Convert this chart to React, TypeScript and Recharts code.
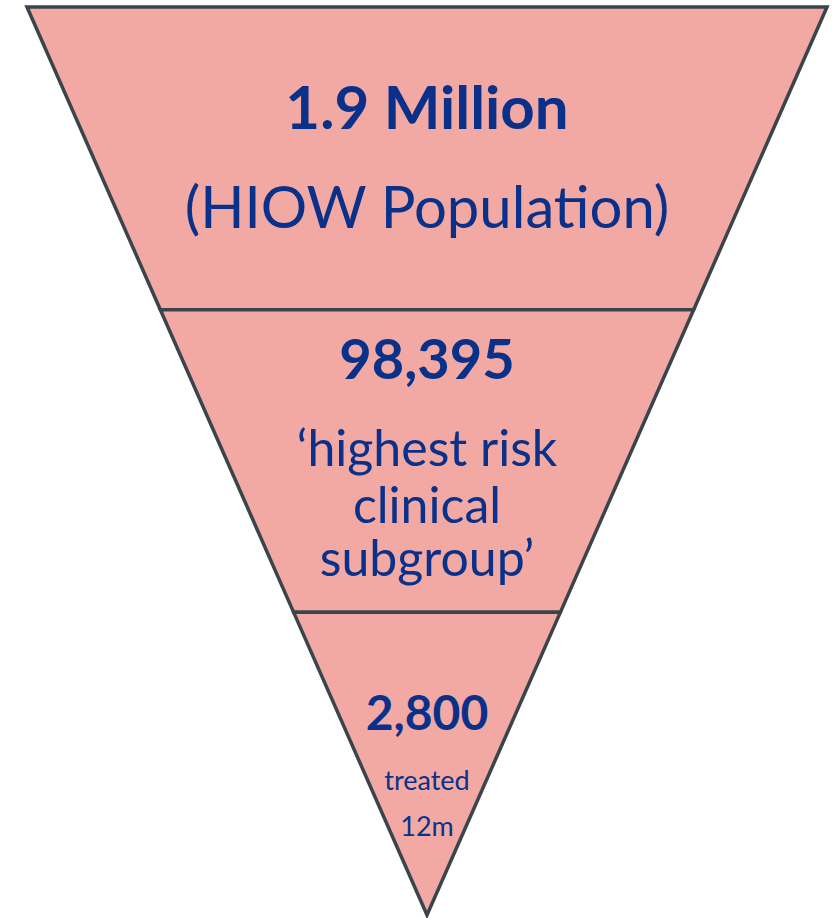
import React from 'react';
import { FunnelChart, Funnel, Trapezoid } from 'recharts';

// Three stages of the funnel, widest first
const stages = ['HIOW population', 'Highest risk subgroup', 'Treated in 12 months'];
// relative width of each band as drawn (the bands narrow evenly to a point)
const bandSize = [3, 2, 1];
const headlines = ['1.9 Million', '98,395', '2,800'];
const captions = [
  ['(HIOW Population)'],
  ['\u2018highest risk', 'clinical', 'subgroup\u2019'],
  ['treated', '12m'],
];

const data = stages.map((name, idx) => ({ name, value: bandSize[idx], idx }));

const TEXT = '#0a318a';
const FONT = 'Lato, "Open Sans", sans-serif';

// text placement inside each band, offsets from band top
const layout = [
  { head: 122, headSize: 60, lines: [221], lineSize: 58 },
  { head: 69, headSize: 56, lines: [156, 213, 266], lineSize: 50 },
  { head: 118, headSize: 48, lines: [178, 224], lineSize: 27 },
];

const Band = (props: any) => {
  const { x, y, upperWidth, lowerWidth, height } = props;
  const idx = props.payload?.idx ?? props.idx ?? 0;
  const cx = x + upperWidth / 2;
  const l = layout[idx];
  return (
    <g>
      <Trapezoid
        x={x}
        y={y}
        upperWidth={upperWidth}
        lowerWidth={lowerWidth}
        height={height}
        fill="#f2a8a3"
        stroke="#3a444d"
        strokeWidth={3.5}
        isUpdateAnimationActive={false}
      />
      <text x={cx} y={y + l.head} textAnchor="middle" fill={TEXT} fontFamily={FONT} fontWeight={700} fontSize={l.headSize}>
        {headlines[idx]}
      </text>
      {captions[idx].map((line, i) => (
        <text key={i} x={cx} y={y + l.lines[i]} textAnchor="middle" fill={TEXT} fontFamily={FONT} fontSize={l.lineSize}>
          {line}
        </text>
      ))}
    </g>
  );
};

export default function App() {
  return (
    <div style={{ position: 'absolute', left: 0, top: 0, width: 838, height: 918, overflow: 'hidden', background: '#fff' }}>
      <FunnelChart width={838} height={918} margin={{ top: 7, right: 11, bottom: 3, left: 27 }}>
        <Funnel
          dataKey="value"
          nameKey="name"
          data={data}
          lastShapeType="triangle"
          shape={<Band />}
          isAnimationActive={false}
        />
      </FunnelChart>
    </div>
  );
}
